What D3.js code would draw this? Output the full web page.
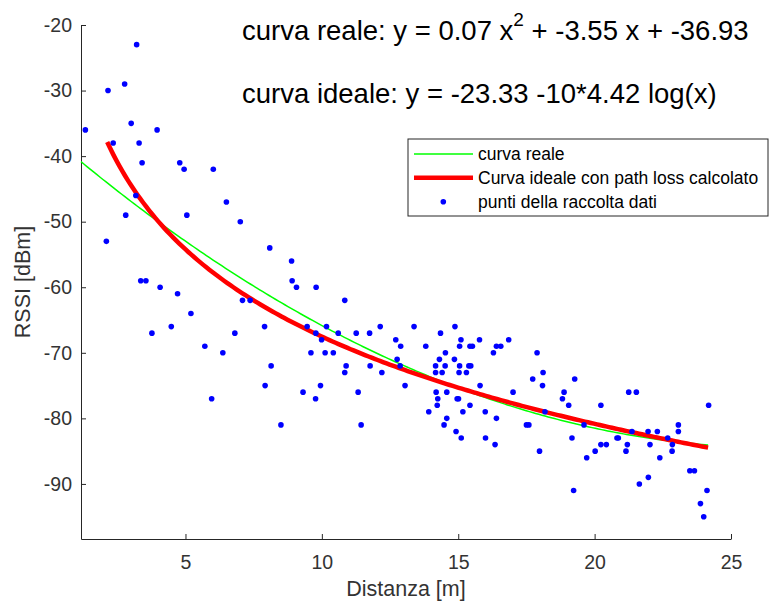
<!DOCTYPE html>
<html>
<head>
<meta charset="utf-8">
<script src="https://cdn.jsdelivr.net/npm/d3@7"></script>
<style>
  body { margin: 0; background: #fff; }
  svg { font-family: "Liberation Sans", Arial, sans-serif; }
  .axis path, .axis line { stroke: #262626; }
  .axis text { fill: #333; font-size: 19.5px; }
</style>
</head>
<body>
<svg width="771" height="602"></svg>
<script>
// data points (distance in m, RSSI in dBm)
var distanza = [3.21,2.16,2.77,1.33,3.01,3.96,2.35,3.30,3.41,4.79,
  4.95,6.02,3.18,6.50,2.81,5.05,7.01,2.10,8.09,8.89,
  3.36,3.55,4.07,8.91,9.07,9.79,4.71,7.09,7.37,5.20,
  3.77,4.48,7.90,6.81,9.46,10.17,9.78,9.99,5.71,6.37,
  9.60,10.12,8.14,7.92,9.95,9.31,9.77,5.96,8.50,10.84,
  10.42,10.60,11.26,11.75,12.14,13.38,14.88,14.35,12.71,12.89,
  13.81,15.10,15.05,15.43,15.52,15.78,16.85,16.40,16.56,16.29,
  17.89,14.53,12.76,14.31,14.86,10.89,11.77,12.87,14.17,14.52,
  15.05,15.39,15.46,10.84,12.20,14.17,14.41,15.03,15.30,17.73,
  13.05,15.80,11.33,14.19,14.58,17.01,14.25,14.96,15.01,14.23,
  15.43,13.92,15.17,15.99,14.58,16.40,11.44,14.48,17.50,17.59,
  14.92,15.11,16.00,16.35,17.98,18.11,18.09,19.27,18.88,18.82,
  19.05,20.23,21.25,21.53,24.18,18.18,19.61,19.17,21.37,21.96,
  22.30,23.07,23.07,20.82,20.87,22.68,20.23,20.43,21.20,22.03,
  22.85,20.02,21.15,22.84,19.71,22.39,23.49,23.66,21.97,21.64,
  19.23,24.12,23.88,24.00];
var rssi = [-23,-30,-29,-36,-35,-36,-38,-38,-41,-41,
  -42,-42,-46,-47,-49,-49,-50,-53,-54,-56,
  -59,-59,-60,-59,-60,-60,-61,-62,-62,-64,
  -67,-66,-66,-67,-66,-66,-67,-68,-69,-70,
  -70,-70,-72,-75,-75,-76,-77,-77,-81,-62,
  -70,-67,-67,-67,-66,-66,-66,-67,-68,-69,
  -69,-68,-69,-69,-69,-68,-68,-69,-69,-70,
  -70,-70,-71,-71,-71,-72,-72,-72,-72,-72,
  -72,-72,-72,-73,-73,-73,-73,-73,-73,-74,
  -75,-75,-76,-76,-76,-76,-77,-77,-77,-78,
  -78,-79,-79,-79,-80,-80,-81,-81,-81,-81,
  -82,-83,-83,-84,-85,-73,-75,-74,-76,-77,
  -78,-78,-76,-76,-78,-79,-81,-83,-82,-82,
  -82,-81,-82,-83,-83,-83,-84,-84,-84,-84,
  -84,-85,-85,-85,-86,-86,-88,-88,-89,-90,
  -91,-91,-93,-95];

// fitted curves: quadratic (a, b, c) and log model (p0, 10*n)
var realeCoef = [0.0671, -3.579, -36.755];
var idealeCoef = [-23.33, 44.2];
var realeRange = [1.17, 24.16];
var idealeRange = [2.13, 24.16];

var xTicks = [5, 10, 15, 20, 25];
var yTicks = [-20, -30, -40, -50, -60, -70, -80, -90];
var legendLabels = ["curva reale", "Curva ideale con path loss calcolato", "punti della raccolta dati"];

var svg = d3.select("svg"),
    margin = {top: 25, right: 40, bottom: 63, left: 81},
    width = svg.attr("width") - margin.left - margin.right,
    height = svg.attr("height") - margin.top - margin.bottom,
    g = svg.append("g").attr("transform", "translate(" + margin.left + "," + margin.top + ")");

//Set the ranges
var x = d3.scaleLinear().domain([1.17, 25]).range([0, width]),
    y = d3.scaleLinear().domain([-98.4, -20]).range([height, 0]);

// plain hyphen for negatives, like the original
var fmt = function(d) { return String(d); };

//Add the X Axis
g.append("g")
  .attr("class", "axis axis--x")
  .attr("transform", "translate(0," + height + ")")
  .call(d3.axisBottom(x).tickValues(xTicks).tickFormat(fmt).tickSizeInner(-5).tickSizeOuter(0).tickPadding(16));

//Add the Y axis
g.append("g")
  .attr("class", "axis axis--y")
  .call(d3.axisLeft(y).tickValues(yTicks).tickFormat(fmt).tickSizeInner(-5).tickSizeOuter(0).tickPadding(9));

//curves
function reale(d) { return realeCoef[0] * d * d + realeCoef[1] * d + realeCoef[2]; }
function ideale(d) { return idealeCoef[0] - idealeCoef[1] * Math.log10(d); }

var line = d3.line()
  .x(function(d) { return x(d[0]); })
  .y(function(d) { return y(d[1]); });

function curve(f, r) {
  return d3.range(0, 201).map(function(i) {
    var d = r[0] + (r[1] - r[0]) * i / 200;
    return [d, f(d)];
  });
}

g.append("path")
  .attr("d", line(curve(reale, realeRange)))
  .attr("fill", "none")
  .attr("stroke", "#00ff00")
  .attr("stroke-width", 1.5);

g.append("path")
  .attr("d", line(curve(ideale, idealeRange)))
  .attr("fill", "none")
  .attr("stroke", "#ff0000")
  .attr("stroke-width", 4.5);

//points
g.selectAll(".dot")
  .data(distanza.map(function(d, i) { return [d, rssi[i]]; }))
  .enter().append("circle")
  .attr("class", "dot")
  .attr("cx", function(d) { return x(d[0]); })
  .attr("cy", function(d) { return y(d[1]); })
  .attr("r", 2.8)
  .attr("fill", "#0000ff");

//axis labels
svg.append("text")
  .attr("x", margin.left + width / 2)
  .attr("y", 596)
  .attr("text-anchor", "middle")
  .attr("font-size", "21.5px")
  .attr("fill", "#333")
  .text("Distanza [m]");

svg.append("text")
  .attr("transform", "translate(30," + (margin.top + height / 2) + ") rotate(-90)")
  .attr("text-anchor", "middle")
  .attr("font-size", "21.5px")
  .attr("fill", "#333")
  .text("RSSI [dBm]");

//equations
var eq1 = svg.append("text")
  .attr("x", 242)
  .attr("y", 40)
  .attr("font-size", "27.5px")
  .attr("fill", "#000");
eq1.append("tspan").text("curva reale: y = 0.07 x");
eq1.append("tspan").attr("dy", -14).attr("font-size", "19px").text("2");
eq1.append("tspan").attr("dy", 14).text(" + -3.55 x + -36.93");

svg.append("text")
  .attr("x", 242)
  .attr("y", 103)
  .attr("font-size", "27.5px")
  .attr("fill", "#000")
  .text("curva ideale: y = -23.33 -10*4.42 log(x)");

//legend
var legend = svg.append("g").attr("transform", "translate(408,139)");

legend.append("rect")
  .attr("width", 360)
  .attr("height", 77)
  .attr("fill", "#fff")
  .attr("stroke", "#262626")
  .attr("stroke-width", 1);

var rows = [15, 38.7, 62.7];

legend.append("line")
  .attr("x1", 6).attr("x2", 65).attr("y1", rows[0]).attr("y2", rows[0])
  .attr("stroke", "#00ff00").attr("stroke-width", 1.5);
legend.append("line")
  .attr("x1", 6).attr("x2", 65).attr("y1", rows[1]).attr("y2", rows[1])
  .attr("stroke", "#ff0000").attr("stroke-width", 4.5);
legend.append("circle")
  .attr("cx", 35.3).attr("cy", rows[2]).attr("r", 2.8).attr("fill", "#0000ff");

legend.selectAll(".ltext")
  .data(legendLabels)
  .enter().append("text")
  .attr("class", "ltext")
  .attr("x", 70)
  .attr("y", function(d, i) { return rows[i]; })
  .attr("dy", "0.35em")
  .attr("font-size", "17.5px")
  .attr("fill", "#000")
  .text(function(d) { return d; });
</script>
</body>
</html>
